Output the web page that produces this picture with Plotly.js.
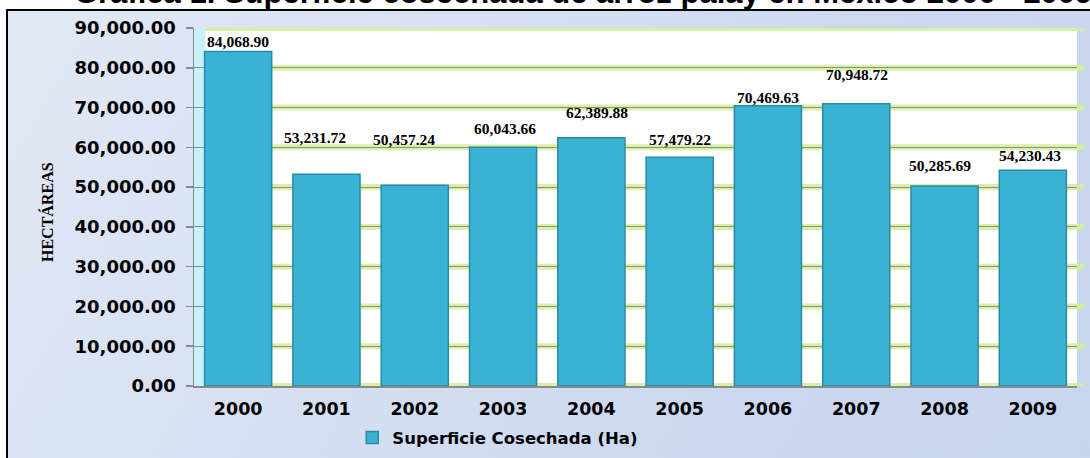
<!DOCTYPE html>
<html>
<head>
<meta charset="utf-8">
<script src="https://cdn.plot.ly/plotly-3.0.1.min.js"></script>
<style>
  html, body { margin: 0; padding: 0; width: 1090px; height: 458px; overflow: hidden; background: #ffffff; }
  #frame { position: absolute; left: 6px; top: 9px; width: 2000px; height: 2000px; border: 2px solid #000;
    background: linear-gradient(120deg, #e2e9f6 0%, #cbd8ef 30%, #c3d3ed 60%, #c8d6ee 80%, #dae3f3 100%); }
  #chart { position: absolute; left: 0; top: 0; width: 1090px; height: 458px; }
</style>
</head>
<body>
<div id="frame"></div>
<div id="chart"></div>
<script>
// ---- data ----
const years = ['2000','2001','2002','2003','2004','2005','2006','2007','2008','2009'];
const hectareas = [84068.90, 53231.72, 50457.24, 60043.66, 62389.88, 57479.22, 70469.63, 70948.72, 50285.69, 54230.43];
const tickValues = [0, 10000, 20000, 30000, 40000, 50000, 60000, 70000, 80000, 90000];
const seriesName = 'Superficie Cosechada (Ha)';
const chartTitle = 'Gráfica 1. Superficie cosechada de arroz palay en México 2000 - 2009';
const yTitle = 'HECTÁREAS';

// ---- label placement (pixel shifts, styling only) ----
const labelYShift = [10, 37, 46, 19, 25, 18, 8, 29, 20, 15];
const labelXShift = [0, -11, -11, 2, 6, 0, 0, 1, -5, -3];

const fmt = v => v.toLocaleString('en-US', {minimumFractionDigits: 2, maximumFractionDigits: 2});

const trace = {
  type: 'bar',
  x: years,
  y: hectareas,
  name: seriesName,
  marker: { color: '#38b3d5', line: { color: '#2a8aa3', width: 1.5 } },
  hoverinfo: 'x+y',
  showlegend: true
};

const shapes = [];
// green glow behind gridlines
tickValues.forEach(v => {
  shapes.push({ type: 'line', xref: 'paper', yref: 'y', x0: 0, x1: 1.008, y0: v, y1: v,
    line: { color: 'rgba(210,238,150,0.85)', width: 6 }, layer: 'below' });
});
// cyan glow along the value axis
shapes.push({ type: 'rect', xref: 'paper', yref: 'y', x0: 0, x1: 0.013, y0: 0, y1: tickValues[tickValues.length-1],
  fillcolor: '#c8f1fb', line: { width: 0 }, layer: 'below' });

// category axis annotations use the category's serial index
const annotations = years.map((yr, i) => ({
  x: i, y: hectareas[i], xref: 'x', yref: 'y',
  text: fmt(hectareas[i]), showarrow: false,
  yanchor: 'middle', xanchor: 'center',
  yshift: labelYShift[i], xshift: labelXShift[i],
  font: { family: 'Liberation Serif, serif', size: 15.5, color: '#000', weight: 'bold' }
}));
annotations.push({
  xref: 'paper', yref: 'paper', x: -0.138, y: 1.045, xanchor: 'left', yanchor: 'bottom',
  text: chartTitle, showarrow: false,
  font: { family: 'Liberation Sans, Arial, sans-serif', size: 31, color: '#000', weight: 'bold' }
});
annotations.push({
  xref: 'paper', yref: 'paper', x: -0.1665, y: 0.486, xanchor: 'center', yanchor: 'middle',
  text: yTitle, showarrow: false, textangle: -90,
  font: { family: 'Liberation Serif, serif', size: 16, color: '#000', weight: 'bold' }
});

const layout = {
  width: 1090, height: 458,
  margin: { l: 194, r: 13, t: 28, b: 72, autoexpand: false },
  paper_bgcolor: 'rgba(0,0,0,0)',
  plot_bgcolor: '#ffffff',
  bargap: 0.24,
  xaxis: {
    type: 'category',
    range: [-0.5, years.length - 0.5],
    autorange: false,
    showline: true, linecolor: '#8a8a8a', linewidth: 1.5,
    ticks: '', showgrid: false,
    ticklabelstandoff: 6,
    tickfont: { family: 'DejaVu Sans, sans-serif', size: 17.5, color: '#000', weight: 'bold' }
  },
  yaxis: {
    range: [0, 90000],
    autorange: false,
    tickvals: tickValues,
    ticktext: tickValues.map(fmt),
    showline: true, linecolor: '#8a8a8a', linewidth: 1.5,
    ticks: 'outside', ticklen: 7, tickcolor: '#8a8a8a', tickwidth: 1.5,
    showgrid: true, gridcolor: '#8c8c8c', gridwidth: 1,
    zeroline: false,
    ticklabelstandoff: 6,
    tickfont: { family: 'DejaVu Sans, sans-serif', size: 18, color: '#000', weight: 'bold' }
  },
  showlegend: true,
  legend: {
    orientation: 'h', xref: 'paper', x: 0.344, xanchor: 'center',
    yref: 'container', y: 0.044, yanchor: 'middle',
    bgcolor: 'rgba(0,0,0,0)',
    font: { family: 'DejaVu Sans, sans-serif', size: 16.5, color: '#000', weight: 'bold' },
    itemwidth: 30
  },
  shapes: shapes,
  annotations: annotations
};

Plotly.newPlot('chart', [trace], layout, { displayModeBar: false, staticPlot: true });
</script>
</body>
</html>
